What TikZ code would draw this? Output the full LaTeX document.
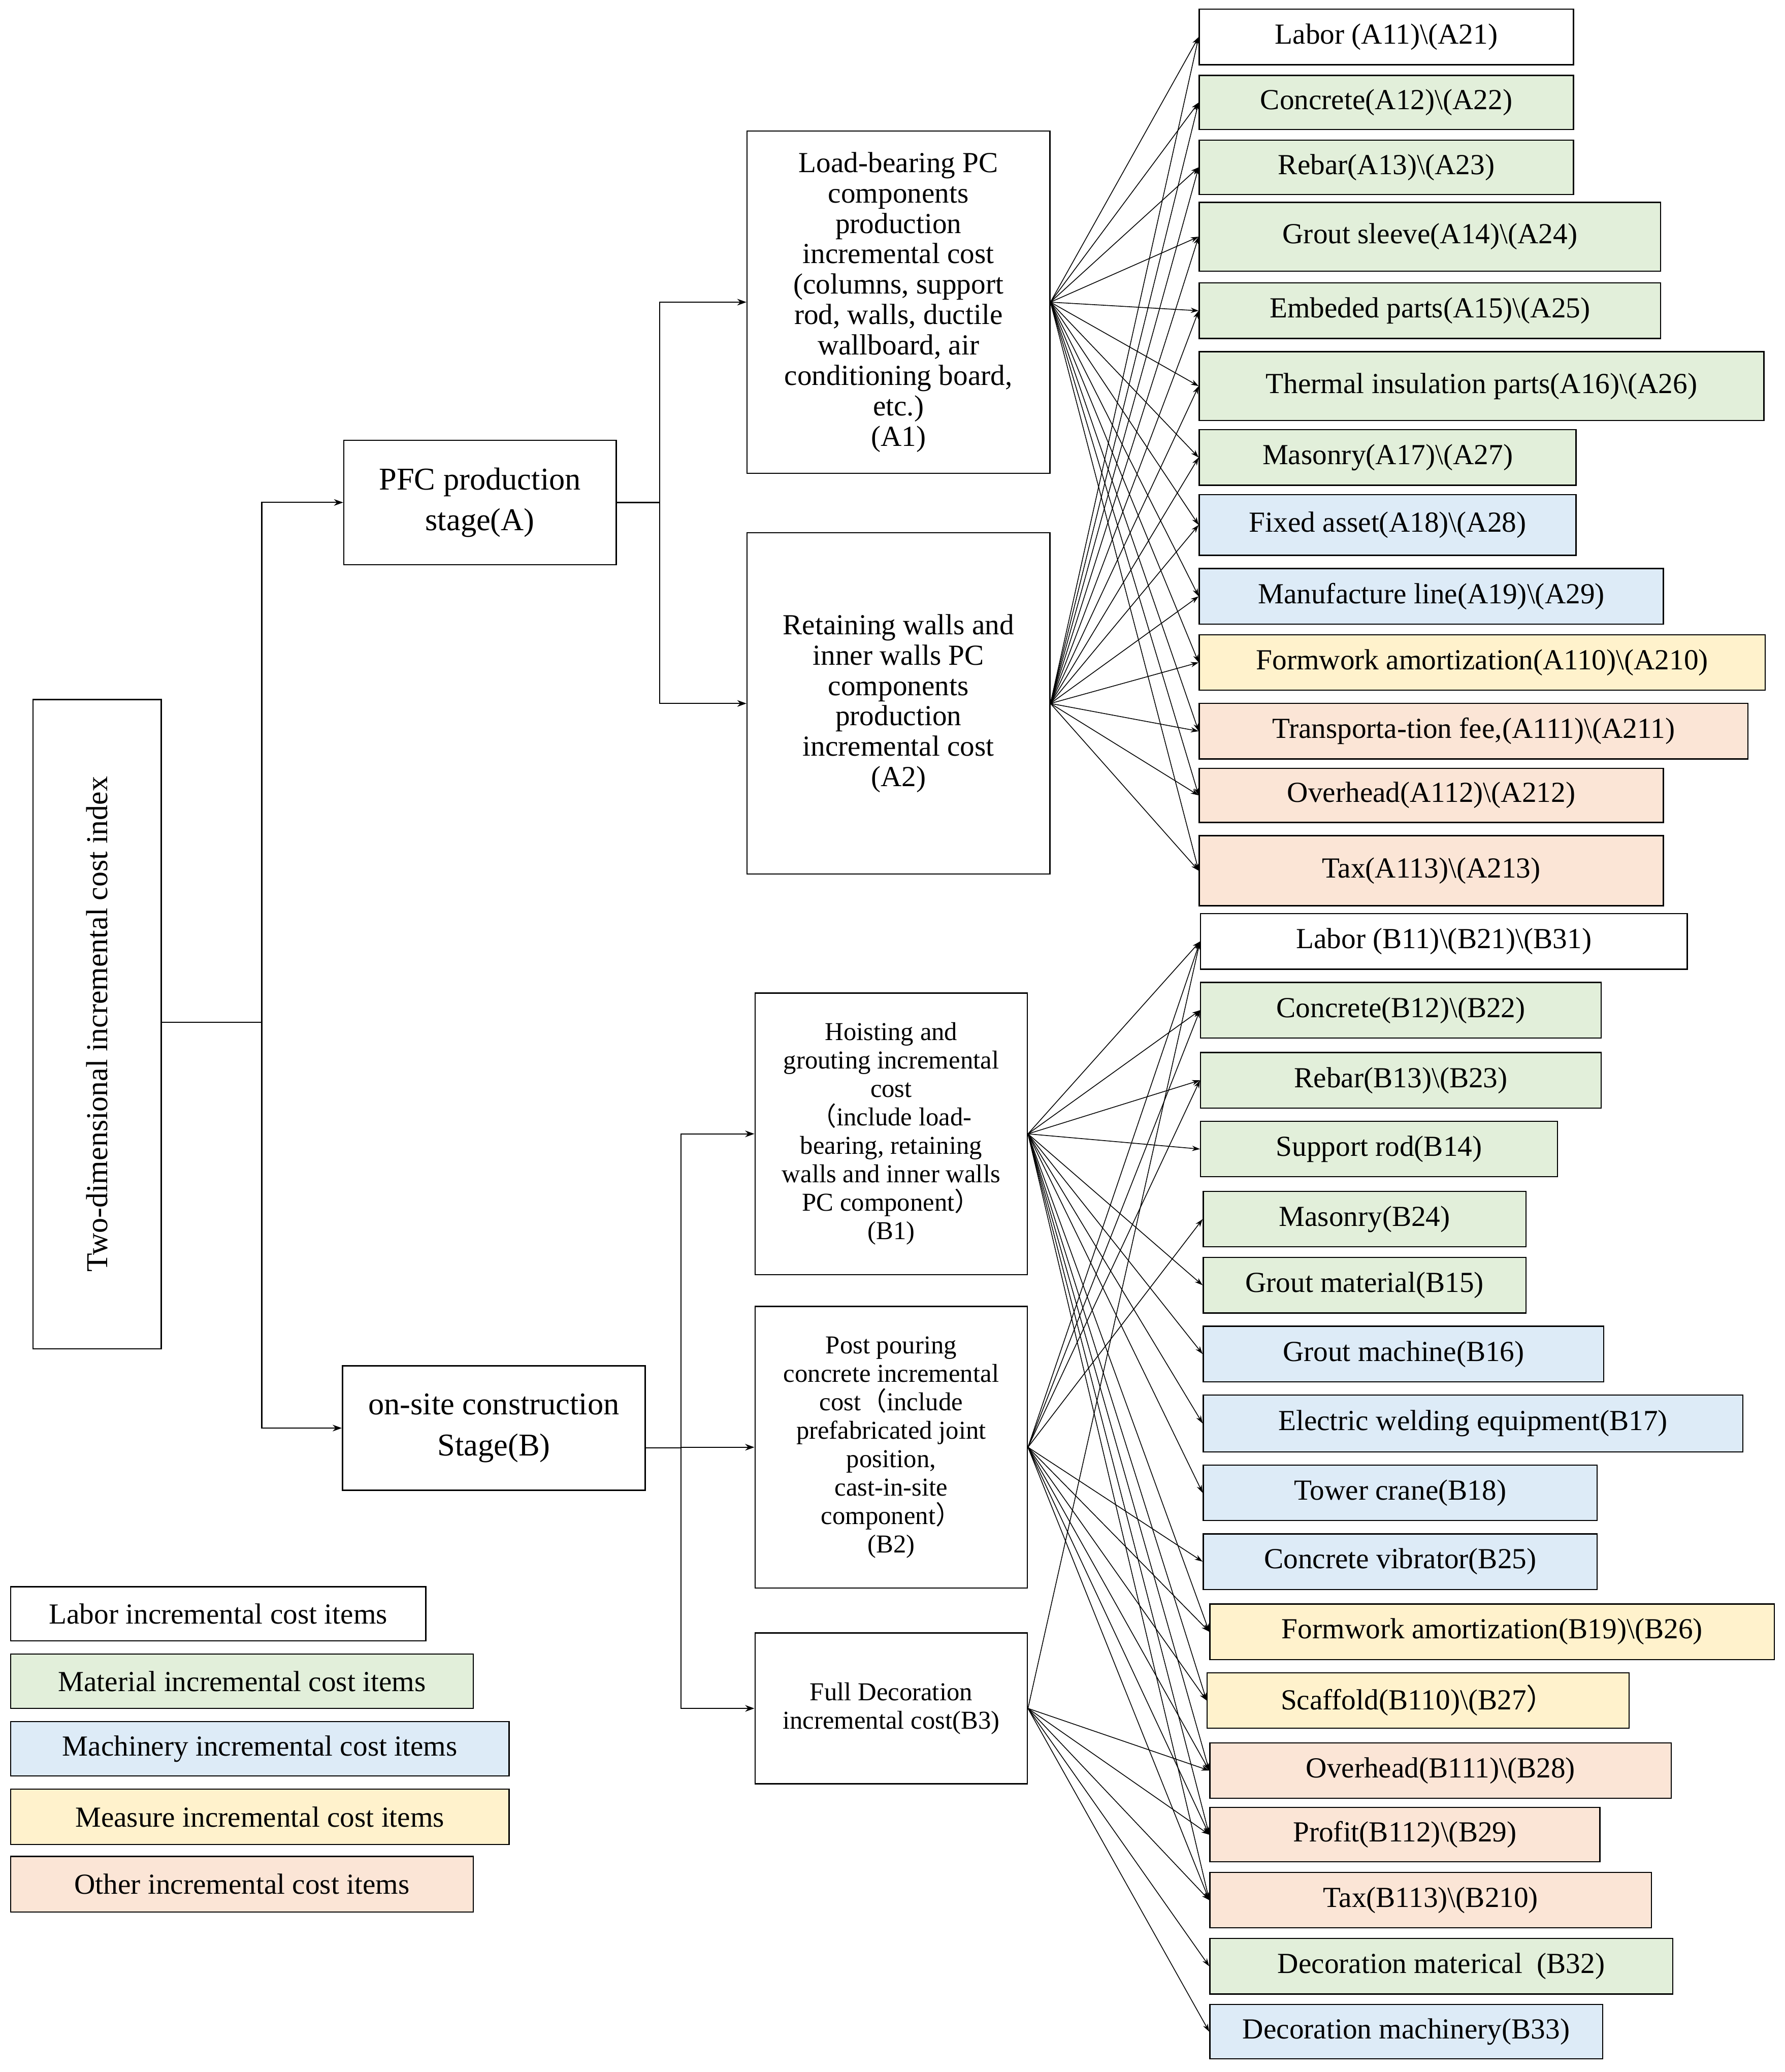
\documentclass[tikz,border=0pt]{standalone}
\usepackage{fontspec}
\setmainfont{Liberation Serif}
\newfontfamily\cjk{Noto Sans CJK SC}
\newcommand{\lp}{{\cjk （}}
\newcommand{\rp}{{\cjk ）}}
\usetikzlibrary{arrows.meta}
\definecolor{cg}{HTML}{E2EFDA}
\definecolor{cb}{HTML}{DDEBF7}
\definecolor{cy}{HTML}{FFF2CC}
\definecolor{co}{HTML}{FBE5D6}
\newcommand{\bx}[7]{\node[box,#6,minimum width={(#4-#2)*1pt},minimum height={(#5-#3)*1pt}] (#1) at ({(#2+#4)/2},{-(#3+#5)/2}) {#7};}
\begin{document}
\begin{tikzpicture}[x=1pt,y=1pt,
 box/.style={draw,line width=0.9pt,inner sep=1pt,align=center,font=\fontsize{22}{23}\selectfont},
 fw/.style={fill=white},fg/.style={fill=cg},fb/.style={fill=cb},fy/.style={fill=cy},fo/.style={fill=co},
 ar/.style={-{Stealth[length=7pt,width=5pt]},line width=0.8pt},
 fan/.style={-{Stealth[length=6pt,width=4pt]},line width=0.6pt},
 sm/.style={font=\fontsize{19.5}{21.5}\selectfont}]
\useasboundingbox (0,0) rectangle (1350,-1567);
\bx{root}{25}{529}{122}{1020}{fw}{}
\node[rotate=90,font=\fontsize{23}{24}\selectfont] at (root) {Two-dimensional incremental cost index};
\bx{A}{260}{333}{466}{427}{fw,font=\fontsize{24}{31}\selectfont}{PFC production\\stage(A)}
\bx{B}{259}{1033}{488}{1127}{fw,font=\fontsize{24}{31}\selectfont}{on-site construction\\Stage(B)}
\bx{A1}{565}{99}{794}{358}{fw}{Load-bearing PC\\components\\production\\incremental cost\\(columns, support\\rod, walls, ductile\\wallboard, air\\conditioning board,\\etc.)\\(A1)}
\bx{A2}{565}{403}{794}{661}{fw}{Retaining walls and\\inner walls PC\\components\\production\\incremental cost\\(A2)}
\bx{B1}{571}{751}{777}{964}{fw,sm}{Hoisting and\\grouting incremental\\cost\\\lp include load-\\bearing, retaining\\walls and inner walls\\PC component\rp\\(B1)}
\bx{B2}{571}{988}{777}{1201}{fw,sm}{Post pouring\\concrete incremental\\cost\lp include\\prefabricated joint\\position,\\cast-in-site\\component\rp\\(B2)}
\bx{B3}{571}{1235}{777}{1349}{fw,sm}{Full Decoration\\incremental cost(B3)}
% A items
\bx{a1}{907}{7}{1190}{49}{fw}{Labor (A11)\textbackslash(A21)}
\bx{a2}{907}{57}{1190}{98}{fg}{Concrete(A12)\textbackslash(A22)}
\bx{a3}{907}{106}{1190}{147}{fg}{Rebar(A13)\textbackslash(A23)}
\bx{a4}{907}{153}{1256}{205}{fg}{Grout sleeve(A14)\textbackslash(A24)}
\bx{a5}{907}{214}{1256}{256}{fg}{Embeded parts(A15)\textbackslash(A25)}
\bx{a6}{907}{266}{1334}{318}{fg}{Thermal insulation parts(A16)\textbackslash(A26)}
\bx{a7}{907}{325}{1192}{367}{fg}{Masonry(A17)\textbackslash(A27)}
\bx{a8}{907}{374}{1192}{420}{fb}{Fixed asset(A18)\textbackslash(A28)}
\bx{a9}{907}{430}{1258}{472}{fb}{Manufacture line(A19)\textbackslash(A29)}
\bx{a10}{907}{480}{1335}{522}{fy}{Formwork amortization(A110)\textbackslash(A210)}
\bx{a11}{907}{532}{1322}{574}{fo}{Transporta-tion fee,(A111)\textbackslash(A211)}
\bx{a12}{907}{581}{1258}{622}{fo}{Overhead(A112)\textbackslash(A212)}
\bx{a13}{907}{632}{1258}{685}{fo}{Tax(A113)\textbackslash(A213)}
% B items
\bx{b1}{908}{691}{1276}{733}{fw}{Labor (B11)\textbackslash(B21)\textbackslash(B31)}
\bx{b2}{908}{743}{1211}{785}{fg}{Concrete(B12)\textbackslash(B22)}
\bx{b3}{908}{796}{1211}{838}{fg}{Rebar(B13)\textbackslash(B23)}
\bx{b4}{908}{848}{1178}{890}{fg}{Support rod(B14)}
\bx{b5}{910}{901}{1154}{943}{fg}{Masonry(B24)}
\bx{b6}{910}{951}{1154}{993}{fg}{Grout material(B15)}
\bx{b7}{910}{1003}{1213}{1045}{fb}{Grout machine(B16)}
\bx{b8}{910}{1055}{1318}{1098}{fb}{Electric welding equipment(B17)}
\bx{b9}{910}{1108}{1208}{1150}{fb}{Tower crane(B18)}
\bx{b10}{910}{1160}{1208}{1202}{fb}{Concrete vibrator(B25)}
\bx{b11}{915}{1213}{1342}{1255}{fy}{Formwork amortization(B19)\textbackslash(B26)}
\bx{b12}{913}{1265}{1232}{1307}{fy}{Scaffold(B110)\textbackslash(B27\rp}
\bx{b13}{915}{1318}{1264}{1360}{fo}{Overhead(B111)\textbackslash(B28)}
\bx{b14}{915}{1367}{1210}{1408}{fo}{Profit(B112)\textbackslash(B29)}
\bx{b15}{915}{1416}{1249}{1458}{fo}{Tax(B113)\textbackslash(B210)}
\bx{b16}{915}{1466}{1265}{1508}{fg}{Decoration materical\ \ (B32)}
\bx{b17}{915}{1516}{1212}{1557}{fb}{Decoration machinery(B33)}
% legend
\bx{l1}{8}{1200}{322}{1241}{fw}{Labor incremental cost items}
\bx{l2}{8}{1251}{358}{1292}{fg}{Material incremental cost items}
\bx{l3}{8}{1302}{385}{1343}{fb}{Machinery incremental cost items}
\bx{l4}{8}{1353}{385}{1395}{fy}{Measure incremental cost items}
\bx{l5}{8}{1404}{358}{1446}{fo}{Other incremental cost items}
% tree
\coordinate (j0) at (198,-773);
\draw[line width=0.9pt] (root.east|-j0) -- (j0);
\draw[ar] (j0) |- (A.west);
\draw[ar] (j0) |- (B.west);
\coordinate (j1) at (499,-380);
\draw[line width=0.9pt] (A.east) -- (j1);
\draw[ar] (j1) |- (A1.west);
\draw[ar] (j1) |- (A2.west);
\coordinate (j2) at (515,-1095);
\draw[line width=0.9pt] (B.east|-j2) -- (j2);
\draw[ar] (j2) |- (B1.west);
\draw[ar] (j2) |- (B2.west);
\draw[ar] (j2) |- (B3.west);
% fans
\foreach \i in {1,...,13}{\draw[fan] (A1.east) -- (a\i.west); \draw[fan] (A2.east) -- (a\i.west);}
\foreach \i in {1,2,3,4,6,7,8,9,11,12,13,14,15}{\draw[fan] (B1.east) -- (b\i.west);}
\foreach \i in {1,2,3,5,10,11,12,13,14,15}{\draw[fan] (B2.east) -- (b\i.west);}
\foreach \i in {1,13,14,15,16,17}{\draw[fan] (B3.east) -- (b\i.west);}
\end{tikzpicture}
\end{document}
